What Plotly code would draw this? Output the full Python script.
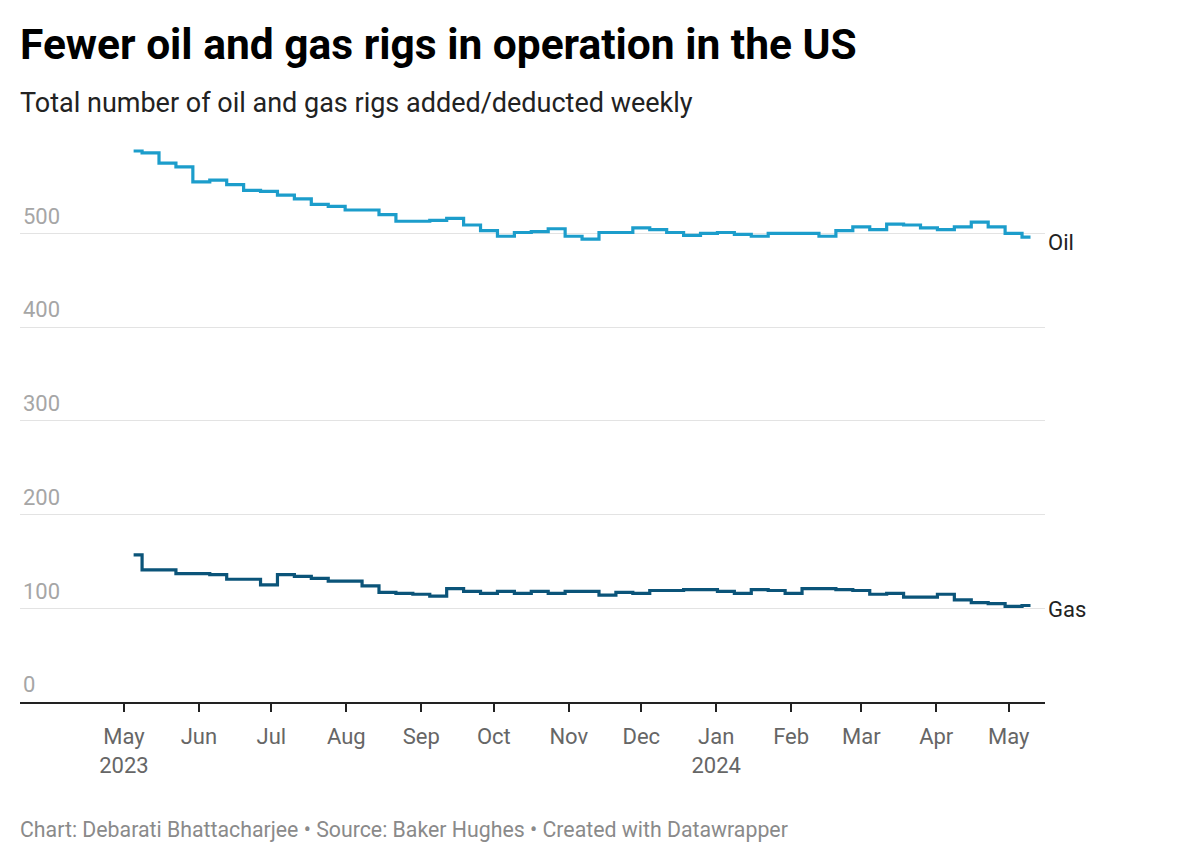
import plotly.graph_objects as go

dates = [
    "2023-05-05", "2023-05-12", "2023-05-19", "2023-05-26",
    "2023-06-02", "2023-06-09", "2023-06-16", "2023-06-23", "2023-06-30",
    "2023-07-07", "2023-07-14", "2023-07-21", "2023-07-28",
    "2023-08-04", "2023-08-11", "2023-08-18", "2023-08-25",
    "2023-09-01", "2023-09-08", "2023-09-15", "2023-09-22", "2023-09-29",
    "2023-10-06", "2023-10-13", "2023-10-20", "2023-10-27",
    "2023-11-03", "2023-11-10", "2023-11-17", "2023-11-24",
    "2023-12-01", "2023-12-08", "2023-12-15", "2023-12-22", "2023-12-29",
    "2024-01-05", "2024-01-12", "2024-01-19", "2024-01-26",
    "2024-02-02", "2024-02-09", "2024-02-16", "2024-02-23",
    "2024-03-01", "2024-03-08", "2024-03-15", "2024-03-22", "2024-03-29",
    "2024-04-05", "2024-04-12", "2024-04-19", "2024-04-26",
    "2024-05-03", "2024-05-10",
]

oil = [588, 586, 575, 571, 555, 557, 552, 546, 545, 541, 537, 531, 529, 525,
       525, 520, 513, 513, 514, 516, 509, 503, 497, 501, 502, 505, 497, 494,
       501, 501, 506, 504, 501, 498, 500, 501, 499, 497, 500, 500, 500, 497,
       503, 507, 504, 510, 509, 506, 504, 507, 512, 507, 500, 496]

gas = [157, 141, 141, 137, 137, 136, 131, 131, 125, 136, 134, 132, 129, 129,
       124, 117, 116, 115, 113, 121, 118, 116, 118, 116, 118, 116, 118, 118,
       114, 117, 116, 119, 119, 120, 120, 118, 116, 120, 119, 116, 121, 121,
       120, 119, 115, 116, 112, 112, 115, 109, 106, 105, 102, 103]

tick_vals = ["2023-05-01", "2023-06-01", "2023-07-01", "2023-08-01", "2023-09-01",
             "2023-10-01", "2023-11-01", "2023-12-01", "2024-01-01", "2024-02-01",
             "2024-03-01", "2024-04-01", "2024-05-01"]
tick_text = ["May<br>2023", "Jun", "Jul", "Aug", "Sep", "Oct", "Nov", "Dec",
             "Jan<br>2024", "Feb", "Mar", "Apr", "May"]
y_ticks = [0, 100, 200, 300, 400, 500]

OIL_COLOR = "#1c9dcb"
GAS_COLOR = "#0b5479"
FONT = "Roboto"

fig = go.Figure()
fig.add_trace(go.Scatter(x=dates, y=oil, mode="lines", name="Oil",
                         line=dict(color=OIL_COLOR, width=3.2, shape="hvh")))
fig.add_trace(go.Scatter(x=dates, y=gas, mode="lines", name="Gas",
                         line=dict(color=GAS_COLOR, width=3.2, shape="hvh")))

fig.add_annotation(x=dates[-1], y=oil[-1], text="Oil", showarrow=False,
                   xanchor="left", yanchor="middle", xshift=15, yshift=-5,
                   font=dict(family=FONT, size=22, color="#222"))
fig.add_annotation(x=dates[-1], y=gas[-1], text="Gas", showarrow=False,
                   xanchor="left", yanchor="middle", xshift=15, yshift=-4,
                   font=dict(family=FONT, size=22, color="#222"))

fig.add_annotation(xref="paper", yref="paper", x=0, y=1.031, xshift=-2,
                   text="Total number of oil and gas rigs added/deducted weekly",
                   showarrow=False, xanchor="left", yanchor="middle",
                   font=dict(family=FONT, size=27, color="#222"))
fig.add_annotation(xref="paper", yref="paper", x=0, y=-0.2203, xshift=-2,
                   text="Chart: Debarati Bhattacharjee • Source: Baker Hughes • Created with Datawrapper",
                   showarrow=False, xanchor="left", yanchor="middle",
                   font=dict(family=FONT, size=21.3, color="#8a8a8a"))

fig.update_layout(
    width=1184, height=846,
    margin=dict(l=12, r=147, t=113, b=152),
    paper_bgcolor="white", plot_bgcolor="white",
    showlegend=False,
    font=dict(family=FONT),
    title=dict(text="<b>Fewer oil and gas rigs in operation in the US</b>",
               x=12 / 1184, xref="container", xanchor="left",
               y=1 - 36 / 846, yref="container", yanchor="middle",
               font=dict(family=FONT, size=42.5, color="#000")),
)
fig.update_xaxes(
    type="date", range=["2023-03-19", "2024-05-16"],
    tickvals=tick_vals, ticktext=tick_text,
    ticks="outside", ticklen=8, tickwidth=2, tickcolor="#222",
    showline=True, linecolor="#222", linewidth=2,
    showgrid=False, zeroline=False, ticklabelstandoff=6,
    tickfont=dict(family=FONT, size=22, color="#666"),
)
fig.update_yaxes(
    range=[0, 620], tickvals=y_ticks,
    ticklabelposition="inside top", ticklabelshift=-2,
    showgrid=True, gridcolor="#e3e3e3", gridwidth=1,
    zeroline=False, showline=False, ticks="",
    tickfont=dict(family=FONT, size=22, color="#a6a6a6"),
)

fig.write_html("out.html")
